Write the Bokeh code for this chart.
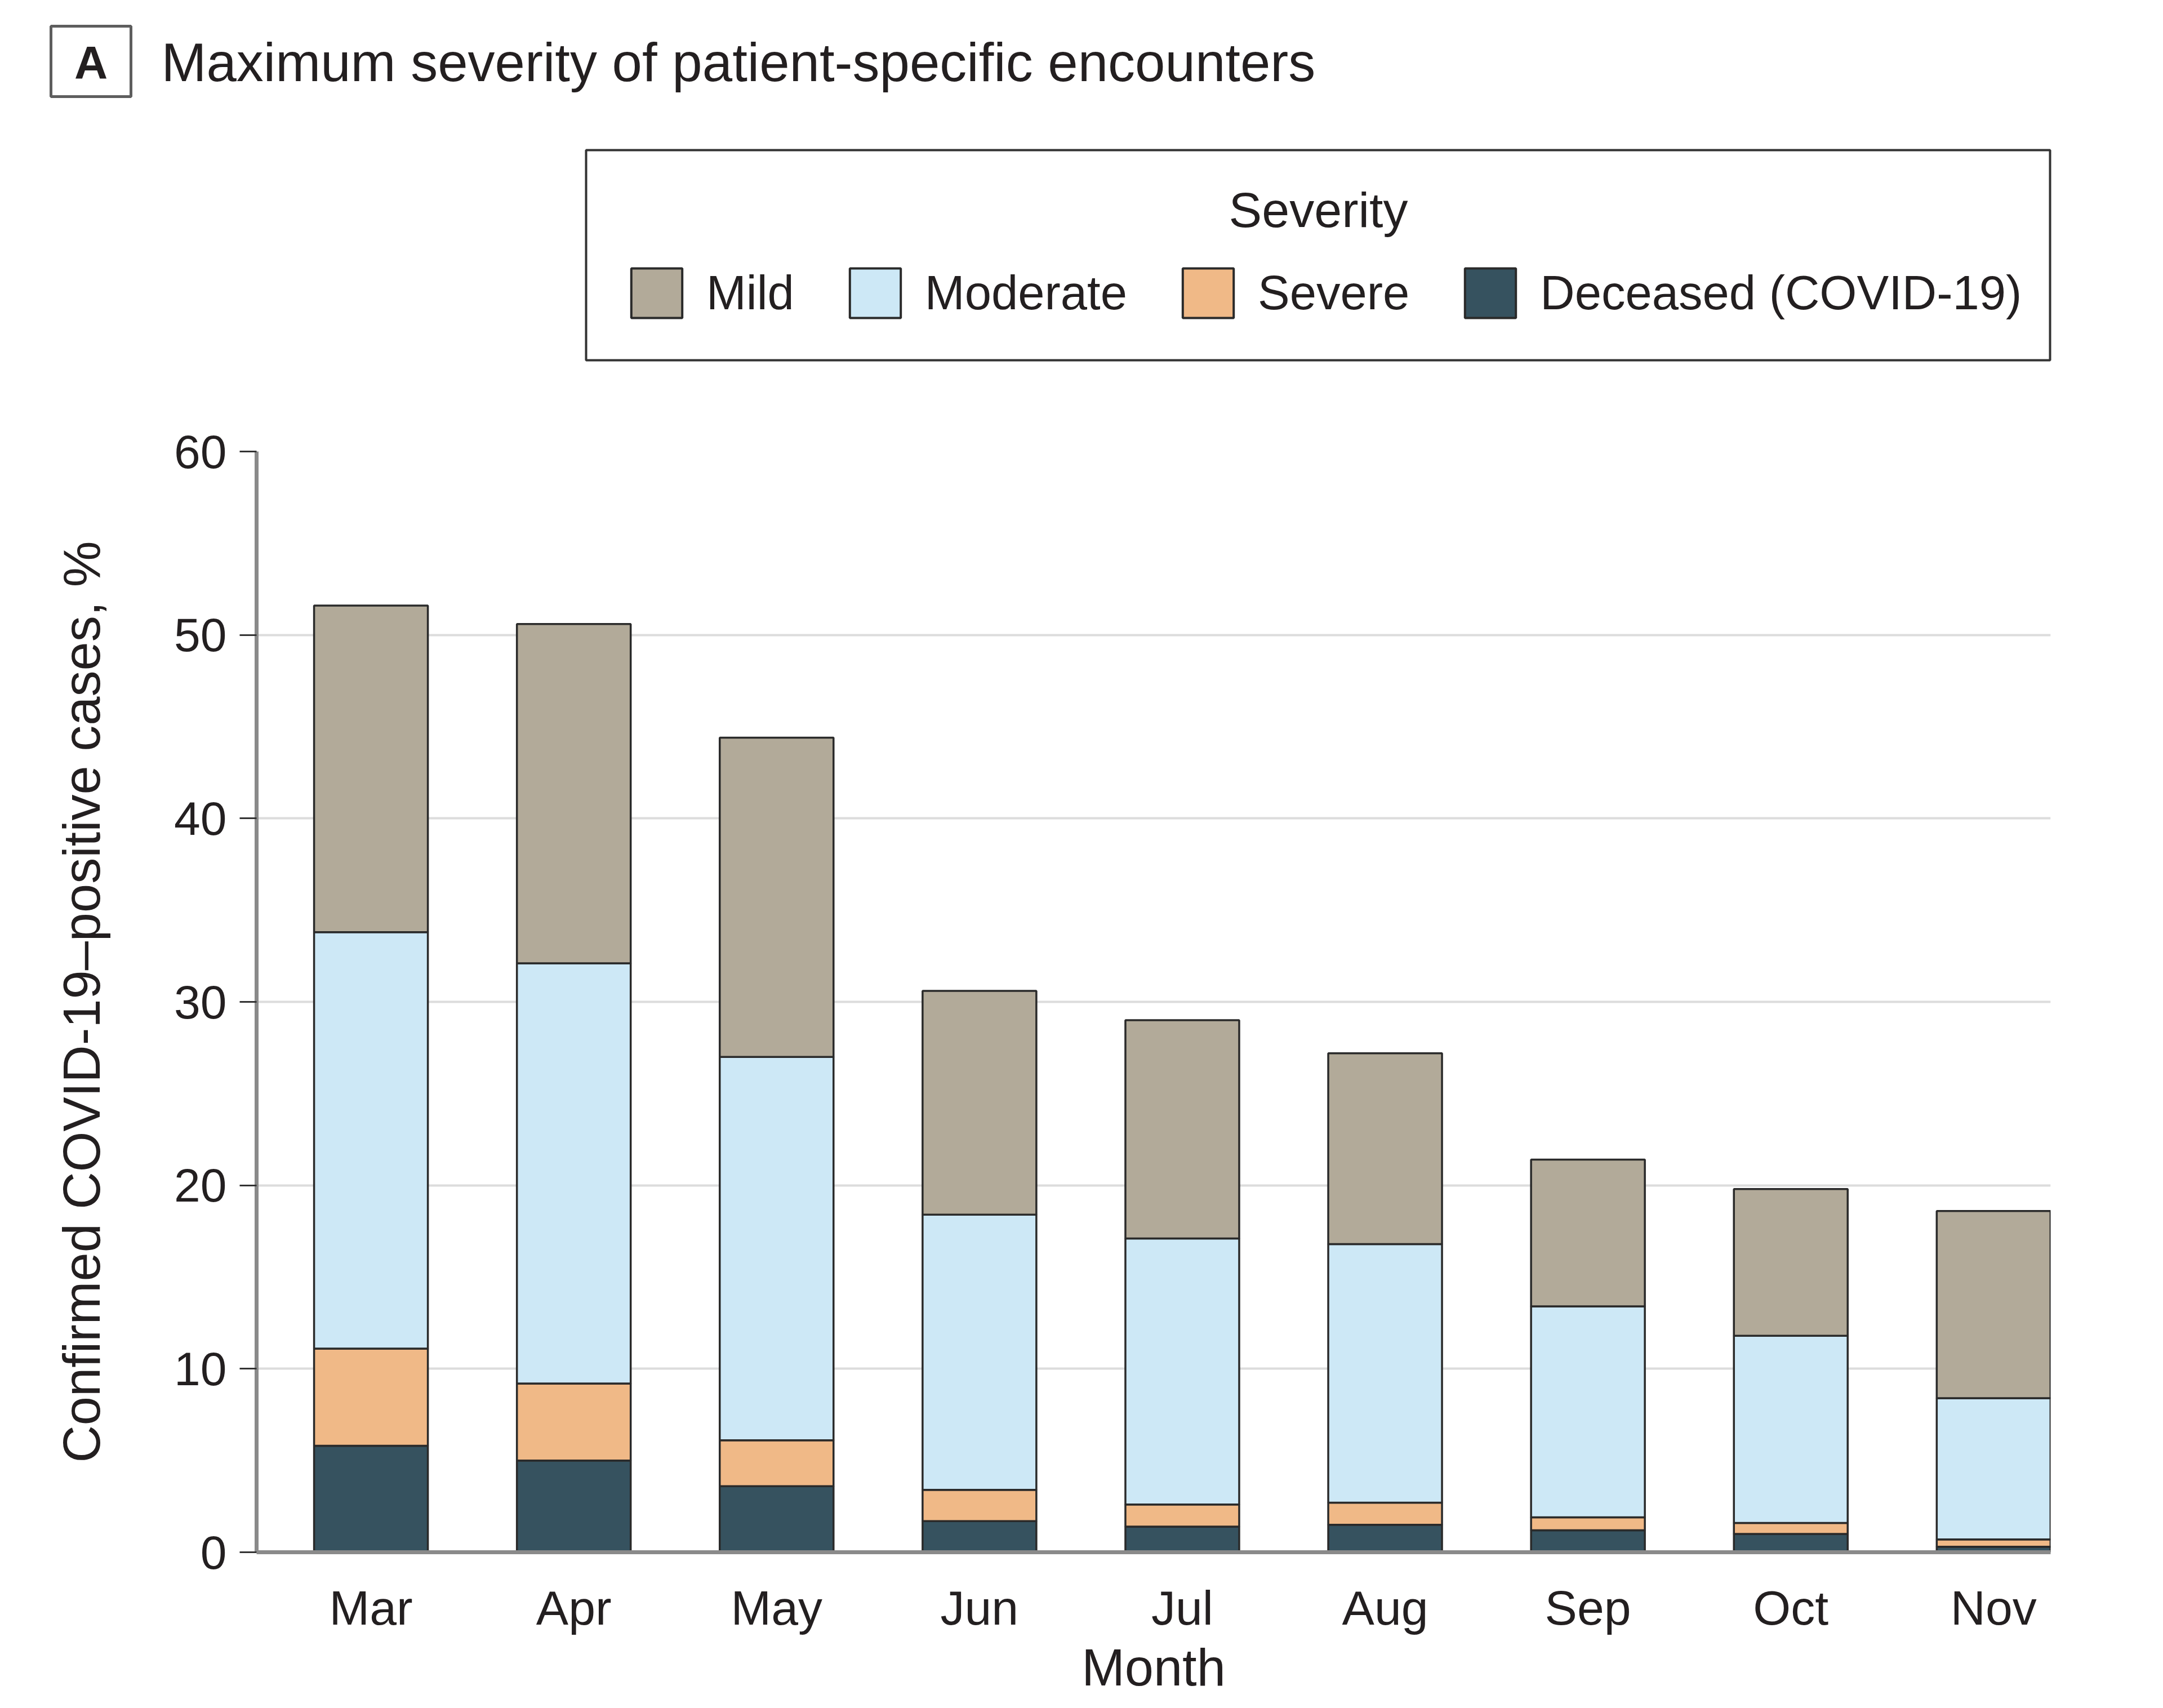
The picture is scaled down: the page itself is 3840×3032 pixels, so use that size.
from bokeh.plotting import figure
from bokeh.layouts import column
from bokeh.models import (ColumnDataSource, Range1d, FixedTicker, Legend, LegendItem,
                          Label, BoxAnnotation)
from bokeh.embed import file_html
from bokeh.resources import INLINE

# ---- data ----
months = ["Mar", "Apr", "May", "Jun", "Jul", "Aug", "Sep", "Oct", "Nov"]
deceased = [5.8, 5.0, 3.6, 1.7, 1.4, 1.5, 1.2, 1.0, 0.3]
severe = [5.3, 4.2, 2.5, 1.7, 1.2, 1.2, 0.7, 0.6, 0.4]
moderate = [22.7, 22.9, 20.9, 15.0, 14.5, 14.1, 11.5, 10.2, 7.7]
mild = [17.8, 18.5, 17.4, 12.2, 11.9, 10.4, 8.0, 8.0, 10.2]
series_labels = ["Mild", "Moderate", "Severe", "Deceased (COVID-19)"]
y_ticks = [0, 10, 20, 30, 40, 50, 60]

# ---- styles ----
C_MILD, C_MOD, C_SEV, C_DEC = "#b2aa99", "#cde8f6", "#f0b987", "#36525f"
COLORS = [C_MILD, C_MOD, C_SEV, C_DEC]
TXT = "#231f20"
FONT = "Liberation Sans"
EDGE = "#2a2a2a"

W = 3820
HH = 700            # header height (title + legend)
HM = 3016 - HH      # main chart height
FL, FR = 455, 3640  # frame left/right in figure px
FT, FB = 101, 2055  # frame top/bottom in main-figure px

# ================= header: panel letter, title, legend =================
hdr = figure(width=W, height=HH, output_backend="svg", toolbar_location=None,
             x_range=Range1d(0, W), y_range=Range1d(HH, 0),
             x_axis_location=None, y_axis_location=None,
             min_border=0, min_border_left=0, min_border_right=0,
             min_border_top=0, min_border_bottom=0)
hdr.frame_align = False
hdr.outline_line_color = None
hdr.xgrid.grid_line_color = None
hdr.ygrid.grid_line_color = None

hdr.add_layout(BoxAnnotation(left=90, right=232, top=46, bottom=171,
                             fill_color=None, fill_alpha=0,
                             line_color="#5e5e5e", line_alpha=1.0, line_width=5))
hdr.add_layout(Label(x=161, y=110, text="A", text_align="center",
                     text_baseline="middle", text_font=FONT,
                     text_font_style="bold", text_font_size="82px", text_color=TXT))
hdr.add_layout(Label(x=286, y=110,
                     text="Maximum severity of patient-specific encounters",
                     text_align="left", text_baseline="middle",
                     text_font=FONT, text_font_size="96px", text_color=TXT))

# legend frame and centred title
hdr.add_layout(BoxAnnotation(left=1040, right=3639, top=266, bottom=639,
                             fill_color="white", fill_alpha=1.0,
                             line_color="#333333", line_alpha=1.0, line_width=4))
hdr.add_layout(Label(x=2340, y=372, text="Severity", text_align="center",
                     text_baseline="middle", text_font=FONT,
                     text_font_size="88px", text_color=TXT))

# legend swatch proxies (styled like the bars; NaN geometry, so nothing is drawn)
nan = float("nan")
swatches = [hdr.quad(left=[nan], right=[nan], top=[nan], bottom=[nan], fill_color=c,
                     line_color=EDGE, line_width=4) for c in COLORS]
leg = Legend(items=[LegendItem(label=lab, renderers=[r])
                    for lab, r in zip(series_labels, swatches)],
             orientation="horizontal", location=(1109, HH - 575),
             label_text_font=FONT, label_text_font_size="85px", label_text_color=TXT,
             glyph_width=113, glyph_height=110, label_standoff=32, spacing=87,
             padding=0, margin=0, border_line_color=None,
             background_fill_alpha=0.0)
hdr.add_layout(leg, "center")

# ================= main chart =================
src = ColumnDataSource(dict(
    x=list(range(len(months))), month=months,
    deceased=deceased, severe=severe, moderate=moderate, mild=mild,
))

p = figure(width=W, height=HM, output_backend="svg", toolbar_location=None,
           x_range=Range1d(-0.564, 8.281), y_range=Range1d(0, 60),
           min_border_left=FL, min_border_right=W - FR,
           min_border_top=FT, min_border_bottom=HM - FB)
p.frame_align = False
p.outline_line_color = None

rs = p.vbar_stack(["deceased", "severe", "moderate", "mild"], x="x", width=0.561,
                  source=src, fill_color=[C_DEC, C_SEV, C_MOD, C_MILD],
                  line_color=EDGE, line_width=3.5)

p.xgrid.grid_line_color = None
p.ygrid.grid_line_color = "#dcdcdc"
p.ygrid.grid_line_width = 4
p.ygrid.ticker = FixedTicker(ticks=y_ticks)

ya = p.yaxis[0]
ya.ticker = FixedTicker(ticks=y_ticks)
ya.axis_label = "Confirmed COVID-19\u2013positive cases, %"
ya.axis_label_text_font = FONT
ya.axis_label_text_font_size = "92px"
ya.axis_label_text_font_style = "normal"
ya.axis_label_text_color = TXT
ya.axis_label_standoff = 110
ya.major_label_text_font = FONT
ya.major_label_text_font_size = "84px"
ya.major_label_text_color = TXT
ya.major_label_standoff = 23
ya.major_tick_out = 30
ya.major_tick_in = 0
ya.major_tick_line_color = "#333333"
ya.major_tick_line_width = 3
ya.minor_tick_line_color = None
ya.axis_line_color = "#8a8a8a"
ya.axis_line_width = 7

xa = p.xaxis[0]
xa.ticker = FixedTicker(ticks=list(range(len(months))))
xa.major_label_overrides = {i: m for i, m in enumerate(months)}
xa.axis_label = "Month"
xa.axis_label_text_font = FONT
xa.axis_label_text_font_size = "92px"
xa.axis_label_text_font_style = "normal"
xa.axis_label_text_color = TXT
xa.axis_label_standoff = 4
xa.major_label_text_font = FONT
xa.major_label_text_font_size = "86px"
xa.major_label_text_color = TXT
xa.major_label_standoff = 50
xa.major_tick_out = 0
xa.major_tick_in = 0
xa.minor_tick_line_color = None
xa.axis_line_color = "#8a8a8a"
xa.axis_line_width = 7

layout = column(hdr, p, spacing=0)
open("out.html", "w").write(file_html(layout, INLINE))
